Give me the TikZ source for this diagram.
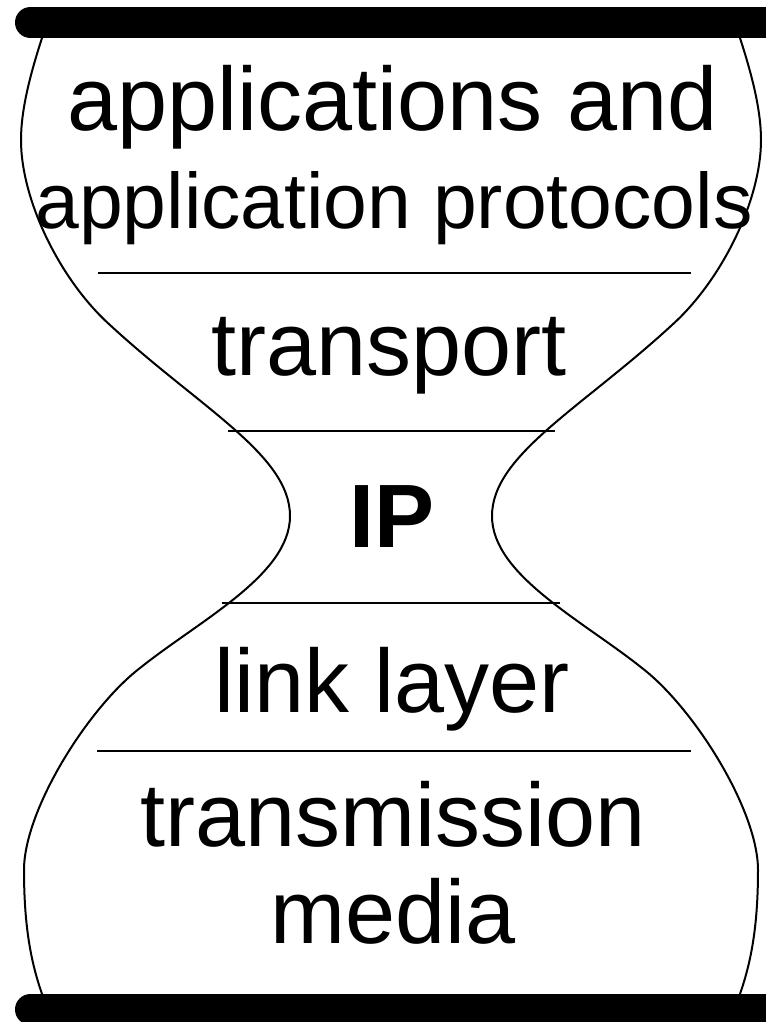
\documentclass[tikz,border=0pt]{standalone}
\usepackage{fontspec}
\setmainfont{Liberation Sans}

\begin{document}
\begin{tikzpicture}[x=0.75pt,y=-0.75pt,
  every node/.style={inner sep=0pt,anchor=base,font=\fontsize{67.5}{70}\selectfont},
  bar/.style={line width=23.25pt,line cap=round},
  rim/.style={line width=1.5pt},
  sep/.style={line width=1.3pt}]
  \useasboundingbox (0,0) rectangle (766,1022);
  \draw[bar] (30.5,22.5) -- (820,22.5);
  \draw[bar] (30.5,1009.5) -- (820,1009.5);
  \draw[rim] (42,38) .. controls (30,75) and (21,110) .. (21,140)
    .. controls (21,200) and (60,280) .. (110,325)
    .. controls (200,408) and (290,455) .. (290,516)
    .. controls (290,575) and (200,620) .. (140,668)
    .. controls (88,708) and (24,810) .. (24,870)
    .. controls (24,930) and (32,965) .. (42,994);
  \draw[rim] (740,38) .. controls (752,75) and (761,110) .. (761,140)
    .. controls (761,200) and (722,280) .. (672,325)
    .. controls (582,408) and (492,455) .. (492,516)
    .. controls (492,575) and (582,620) .. (642,668)
    .. controls (694,708) and (758,810) .. (758,870)
    .. controls (758,930) and (750,965) .. (740,994);
  \draw[sep] (98,273) -- (691,273);
  \draw[sep] (228,431) -- (555,431);
  \draw[sep] (222,603) -- (560,603);
  \draw[sep] (97,751) -- (691,751);
  \node (apps) at (393,130) {applications and};
  \node[font=\fontsize{59}{62}\selectfont] (protos) at (394,228) {application protocols};
  \node (transport) at (389,375) {transport};
  \node[font=\fontsize{67.5}{70}\selectfont\bfseries] (ip) at (392,547) {IP};
  \node (link) at (392,712) {link layer};
  \node (trans) at (393,846) {transmission};
  \node (media) at (393,943) {media};
\end{tikzpicture}
\end{document}
